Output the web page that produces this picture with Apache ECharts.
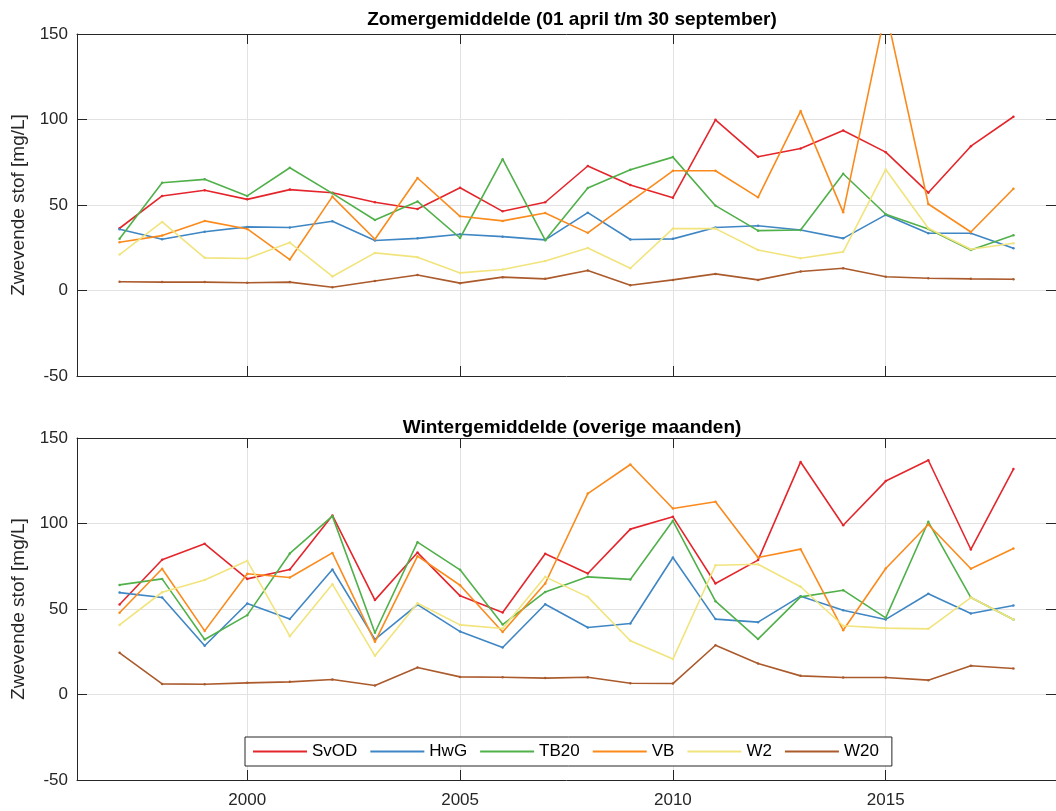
<!DOCTYPE html>
<html>
<head>
<meta charset="utf-8">
<script src="https://cdn.jsdelivr.net/npm/echarts@6/dist/echarts.min.js"></script>
<style>
html,body{margin:0;padding:0;background:#fff;}
#chart{width:1056px;height:811px;}
</style>
</head>
<body>
<div id="chart"></div>
<script>
const years = [1997,1998,1999,2000,2001,2002,2003,2004,2005,2006,2007,2008,2009,2010,2011,2012,2013,2014,2015,2016,2017,2018];
const seriesNames = ['SvOD','HwG','TB20','VB','W2','W20'];
const seriesColors = ['#e4262c','#3f86c4','#50b04a','#fb8a1c','#f1e47c','#ab5a2c'];
const xTicks = [2000,2005,2010,2015];
const yTicks = [-50,0,50,100,150];
const titleSummer = 'Zomergemiddelde (01 april t/m 30 september)';
const titleWinter = 'Wintergemiddelde (overige maanden)';
const yLabel = 'Zwevende stof [mg/L]';

// Zomer
const zomerSvOD = [36.4,55.3,58.6,53.3,59.0,57.2,51.6,47.7,60.1,46.3,51.6,72.8,61.7,54.3,99.8,78.2,83.0,93.6,80.9,57.2,84.4,101.6];
const zomerHwG  = [35.8,30.0,34.4,37.2,36.8,40.5,29.2,30.5,32.9,31.5,29.6,45.5,29.8,30.2,36.8,37.9,35.4,30.5,44.2,33.5,33.5,24.7];
const zomerTB20 = [30.2,63.0,65.0,55.3,71.8,56.8,41.2,52.1,30.7,76.8,29.4,59.9,70.6,78.0,49.6,35.0,35.4,68.3,44.6,36.0,23.7,32.3];
const zomerVB   = [28.2,32.1,40.7,36.0,18.1,54.9,30.0,65.8,43.4,40.7,45.3,33.7,52.0,70.0,70.0,54.5,104.9,45.7,164.0,50.6,34.2,59.5];
const zomerW2   = [21.0,40.1,19.1,18.7,28.0,8.2,22.0,19.5,10.3,12.3,17.3,24.9,13.0,36.2,36.2,23.7,18.9,22.6,70.8,36.4,24.1,27.6];
const zomerW20  = [5.1,4.9,4.9,4.5,4.9,1.9,5.6,9.1,4.3,7.8,6.8,11.7,3.1,6.2,9.7,6.2,11.1,13.0,8.0,7.2,6.8,6.6];

// Winter
const winterSvOD = [52.6,78.8,88.1,67.6,73.1,104.7,55.2,83.0,57.7,48.0,82.3,70.8,96.7,103.9,64.9,78.6,136.0,99.0,124.8,137.0,84.8,131.8];
const winterHwG  = [59.6,56.7,28.5,53.2,44.2,73.1,32.2,52.6,36.8,27.5,52.8,39.2,41.5,80.1,44.1,42.3,57.5,49.3,43.9,58.9,47.4,52.0];
const winterTB20 = [64.1,67.6,32.2,46.4,82.5,104.3,36.1,89.1,72.9,40.9,60.0,68.8,67.3,101.6,54.6,32.4,57.1,61.0,44.8,101.0,56.7,43.9];
const winterVB   = [47.8,73.5,37.2,70.6,68.4,82.8,30.8,80.9,63.9,36.5,64.9,117.5,134.5,108.8,112.7,80.1,85.0,37.6,73.7,99.4,73.5,85.4];
const winterW2   = [40.7,59.8,66.9,78.2,34.1,64.5,22.6,53.4,40.7,38.6,68.8,57.1,31.4,20.7,75.6,76.2,63.0,40.2,38.8,38.4,56.7,43.9];
const winterW20  = [24.4,6.2,6.0,6.8,7.4,8.8,5.3,15.8,10.3,10.1,9.6,10.1,6.6,6.4,28.8,18.1,10.9,9.9,9.9,8.4,16.8,15.2];

const zomer = [zomerSvOD,zomerHwG,zomerTB20,zomerVB,zomerW2,zomerW20];
const winter = [winterSvOD,winterHwG,winterTB20,winterVB,winterW2,winterW20];

const FONT = 'Liberation Sans';
const AX = '#262626';
const GRIDC = '#e2e2e2';

function xAx(gi, pos, labels){
  return {
    type:'value', gridIndex:gi, position:pos, min:1996, max:2019,
    axisLine:{show:true, onZero:false, lineStyle:{color:AX, width:1}},
    axisTick:{show:true, inside:true, length:10, customValues:xTicks, lineStyle:{color:AX}},
    axisLabel:{show:labels, customValues:xTicks, color:AX, fontFamily:FONT, fontSize:17, margin:12,
      formatter:function(v){ return String(v); }},
    splitLine:{show:pos==='bottom', lineStyle:{color:GRIDC, width:1}}
  };
}
function yAx(gi, pos, labels){
  const o = {
    type:'value', gridIndex:gi, position:pos, min:-50, max:150, interval:50,
    axisLine:{show:true, onZero:false, lineStyle:{color:AX, width:1}},
    axisTick:{show:true, inside:true, length:10, lineStyle:{color:AX}},
    axisLabel:{show:labels, color:AX, fontFamily:FONT, fontSize:17, margin:9},
    splitLine:{show:pos==='left', lineStyle:{color:GRIDC, width:1}}
  };
  if(labels){
    o.name = yLabel; o.nameLocation='middle'; o.nameRotate=90; o.nameGap=46;
    o.nameTextStyle={color:AX, fontFamily:FONT, fontSize:19};
  }
  return o;
}

const series = [];
[zomer, winter].forEach((set, gi)=>{
  set.forEach((arr, k)=>{
    series.push({
      name: seriesNames[k], type:'line',
      xAxisIndex: gi*2, yAxisIndex: gi*2,
      data: years.map((y,i)=>[y, arr[i]]),
      color: seriesColors[k],
      lineStyle:{width:1.6, color:seriesColors[k]},
      itemStyle:{color:seriesColors[k]},
      symbol:'circle', symbolSize:2.5, showSymbol:true,
      clip:true, animation:false, z: 2+k
    });
  });
});

const chart = echarts.init(document.getElementById('chart'), null, {renderer:'canvas'});
chart.setOption({
  backgroundColor:'#fff',
  animation:false,
  title:[
    {text:titleSummer, left:567, top:5, textAlign:'center', textStyle:{fontFamily:FONT, fontWeight:'bold', fontSize:19, color:'#000'}},
    {text:titleWinter, left:567, top:413, textAlign:'center', textStyle:{fontFamily:FONT, fontWeight:'bold', fontSize:19, color:'#000'}}
  ],
  grid:[
    {left:77, top:34, width:983, height:342},
    {left:77, top:438, width:983, height:342}
  ],
  xAxis:[xAx(0,'bottom',false), xAx(0,'top',false), xAx(1,'bottom',true), xAx(1,'top',false)],
  yAxis:[yAx(0,'left',true), yAx(0,'right',false), yAx(1,'left',true), yAx(1,'right',false)],
  legend:{
    data:seriesNames.map(function(n){ return {name:n, icon:'rect'}; }),
    left:245, top:737, orient:'horizontal',
    padding:[6,13,6,8], itemGap:13, itemWidth:54, itemHeight:2,
    borderColor:AX, borderWidth:1, backgroundColor:'#fff',
    textStyle:{fontFamily:FONT, fontSize:17, color:'#000', lineHeight:17}
  },
  series: series
});
</script>
</body>
</html>
